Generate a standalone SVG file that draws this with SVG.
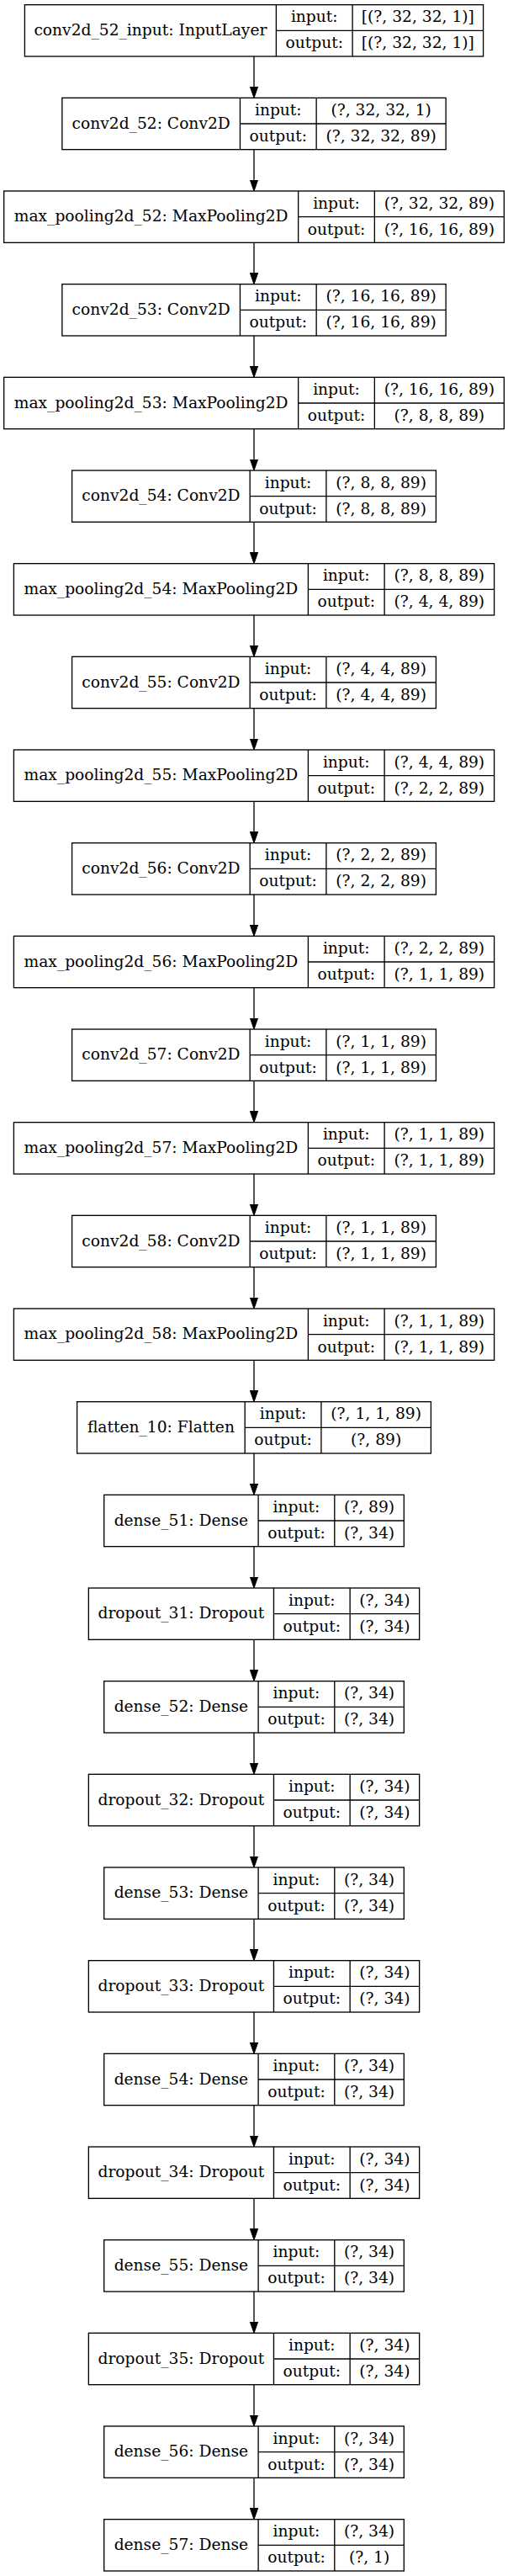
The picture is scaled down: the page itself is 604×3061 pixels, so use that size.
<svg xmlns="http://www.w3.org/2000/svg" width="604" height="3061" viewBox="0 0 604 3061">
<style>
.b{fill:#fff;stroke:#000;stroke-width:1.33}
.l{stroke:#000;stroke-width:1.33;fill:none}
.t{font-family:"DejaVu Serif","Liberation Serif",serif;font-size:18.67px;text-anchor:middle;fill:#000}
.e{stroke:#000;stroke-width:1.33;fill:none;marker-end:url(#ah)}
</style>
<defs>
<marker id="ah" markerUnits="userSpaceOnUse" viewBox="0 0 13.33 9.33" markerWidth="13.33" markerHeight="9.33" refX="0" refY="4.67" orient="auto">
<path d="M0,0 L13.33,4.67 L0,9.33 Z" fill="#000" stroke="#000" stroke-width="1"/>
</marker>
</defs>
<rect width="604" height="3061" fill="#fff"/>
<g id="edges">
<line class="e" x1="302" y1="67" x2="302" y2="103"/>
<line class="e" x1="302" y1="177.67" x2="302" y2="213.67"/>
<line class="e" x1="302" y1="288.33" x2="302" y2="324.33"/>
<line class="e" x1="302" y1="399" x2="302" y2="435"/>
<line class="e" x1="302" y1="509.67" x2="302" y2="545.67"/>
<line class="e" x1="302" y1="620.33" x2="302" y2="656.33"/>
<line class="e" x1="302" y1="731" x2="302" y2="767"/>
<line class="e" x1="302" y1="841.67" x2="302" y2="877.67"/>
<line class="e" x1="302" y1="952.33" x2="302" y2="988.33"/>
<line class="e" x1="302" y1="1063" x2="302" y2="1099"/>
<line class="e" x1="302" y1="1173.67" x2="302" y2="1209.67"/>
<line class="e" x1="302" y1="1284.33" x2="302" y2="1320.33"/>
<line class="e" x1="302" y1="1395" x2="302" y2="1431"/>
<line class="e" x1="302" y1="1505.67" x2="302" y2="1541.67"/>
<line class="e" x1="302" y1="1616.33" x2="302" y2="1652.33"/>
<line class="e" x1="302" y1="1727" x2="302" y2="1763"/>
<line class="e" x1="302" y1="1837.67" x2="302" y2="1873.67"/>
<line class="e" x1="302" y1="1948.33" x2="302" y2="1984.33"/>
<line class="e" x1="302" y1="2059" x2="302" y2="2095"/>
<line class="e" x1="302" y1="2169.67" x2="302" y2="2205.67"/>
<line class="e" x1="302" y1="2280.33" x2="302" y2="2316.33"/>
<line class="e" x1="302" y1="2391" x2="302" y2="2427"/>
<line class="e" x1="302" y1="2501.67" x2="302" y2="2537.67"/>
<line class="e" x1="302" y1="2612.33" x2="302" y2="2648.33"/>
<line class="e" x1="302" y1="2723" x2="302" y2="2759"/>
<line class="e" x1="302" y1="2833.67" x2="302" y2="2869.67"/>
<line class="e" x1="302" y1="2944.33" x2="302" y2="2980.33"/>
</g>

<g id="conv2d_52_input" transform="translate(0,5.67)">
<rect class="b" x="29.4" y="0" width="545.2" height="61.33"/>
<path class="l" d="M328.4,0V61.33M419.1,0V61.33M328.4,30.67H574.6"/>
<text class="t" x="178.9" y="36.2">conv2d_52_input: InputLayer</text>
<text class="t" x="373.75" y="20.8">input:</text>
<text class="t" x="373.75" y="51.5">output:</text>
<text class="t" x="496.85" y="20.8">[(?, 32, 32, 1)]</text>
<text class="t" x="496.85" y="51.5">[(?, 32, 32, 1)]</text>
</g>

<g id="conv2d_52" transform="translate(0,116.33)">
<rect class="b" x="73.85" y="0" width="456.3" height="61.33"/>
<path class="l" d="M285.45,0V61.33M376.15,0V61.33M285.45,30.67H530.15"/>
<text class="t" x="179.65" y="36.2">conv2d_52: Conv2D</text>
<text class="t" x="330.8" y="20.8">input:</text>
<text class="t" x="330.8" y="51.5">output:</text>
<text class="t" x="453.15" y="20.8">(?, 32, 32, 1)</text>
<text class="t" x="453.15" y="51.5">(?, 32, 32, 89)</text>
</g>

<g id="max_pooling2d_52" transform="translate(0,227)">
<rect class="b" x="4.65" y="0" width="594.7" height="61.33"/>
<path class="l" d="M354.65,0V61.33M445.35,0V61.33M354.65,30.67H599.35"/>
<text class="t" x="179.65" y="36.2">max_pooling2d_52: MaxPooling2D</text>
<text class="t" x="400" y="20.8">input:</text>
<text class="t" x="400" y="51.5">output:</text>
<text class="t" x="522.35" y="20.8">(?, 32, 32, 89)</text>
<text class="t" x="522.35" y="51.5">(?, 16, 16, 89)</text>
</g>

<g id="conv2d_53" transform="translate(0,337.67)">
<rect class="b" x="73.85" y="0" width="456.3" height="61.33"/>
<path class="l" d="M285.45,0V61.33M376.15,0V61.33M285.45,30.67H530.15"/>
<text class="t" x="179.65" y="36.2">conv2d_53: Conv2D</text>
<text class="t" x="330.8" y="20.8">input:</text>
<text class="t" x="330.8" y="51.5">output:</text>
<text class="t" x="453.15" y="20.8">(?, 16, 16, 89)</text>
<text class="t" x="453.15" y="51.5">(?, 16, 16, 89)</text>
</g>

<g id="max_pooling2d_53" transform="translate(0,448.33)">
<rect class="b" x="4.65" y="0" width="594.7" height="61.33"/>
<path class="l" d="M354.65,0V61.33M445.35,0V61.33M354.65,30.67H599.35"/>
<text class="t" x="179.65" y="36.2">max_pooling2d_53: MaxPooling2D</text>
<text class="t" x="400" y="20.8">input:</text>
<text class="t" x="400" y="51.5">output:</text>
<text class="t" x="522.35" y="20.8">(?, 16, 16, 89)</text>
<text class="t" x="522.35" y="51.5">(?, 8, 8, 89)</text>
</g>

<g id="conv2d_54" transform="translate(0,559)">
<rect class="b" x="85.6" y="0" width="432.8" height="61.33"/>
<path class="l" d="M297.2,0V61.33M387.9,0V61.33M297.2,30.67H518.4"/>
<text class="t" x="191.4" y="36.2">conv2d_54: Conv2D</text>
<text class="t" x="342.55" y="20.8">input:</text>
<text class="t" x="342.55" y="51.5">output:</text>
<text class="t" x="453.15" y="20.8">(?, 8, 8, 89)</text>
<text class="t" x="453.15" y="51.5">(?, 8, 8, 89)</text>
</g>

<g id="max_pooling2d_54" transform="translate(0,669.67)">
<rect class="b" x="16.4" y="0" width="571.2" height="61.33"/>
<path class="l" d="M366.4,0V61.33M457.1,0V61.33M366.4,30.67H587.6"/>
<text class="t" x="191.4" y="36.2">max_pooling2d_54: MaxPooling2D</text>
<text class="t" x="411.75" y="20.8">input:</text>
<text class="t" x="411.75" y="51.5">output:</text>
<text class="t" x="522.35" y="20.8">(?, 8, 8, 89)</text>
<text class="t" x="522.35" y="51.5">(?, 4, 4, 89)</text>
</g>

<g id="conv2d_55" transform="translate(0,780.33)">
<rect class="b" x="85.6" y="0" width="432.8" height="61.33"/>
<path class="l" d="M297.2,0V61.33M387.9,0V61.33M297.2,30.67H518.4"/>
<text class="t" x="191.4" y="36.2">conv2d_55: Conv2D</text>
<text class="t" x="342.55" y="20.8">input:</text>
<text class="t" x="342.55" y="51.5">output:</text>
<text class="t" x="453.15" y="20.8">(?, 4, 4, 89)</text>
<text class="t" x="453.15" y="51.5">(?, 4, 4, 89)</text>
</g>

<g id="max_pooling2d_55" transform="translate(0,891)">
<rect class="b" x="16.4" y="0" width="571.2" height="61.33"/>
<path class="l" d="M366.4,0V61.33M457.1,0V61.33M366.4,30.67H587.6"/>
<text class="t" x="191.4" y="36.2">max_pooling2d_55: MaxPooling2D</text>
<text class="t" x="411.75" y="20.8">input:</text>
<text class="t" x="411.75" y="51.5">output:</text>
<text class="t" x="522.35" y="20.8">(?, 4, 4, 89)</text>
<text class="t" x="522.35" y="51.5">(?, 2, 2, 89)</text>
</g>

<g id="conv2d_56" transform="translate(0,1001.67)">
<rect class="b" x="85.6" y="0" width="432.8" height="61.33"/>
<path class="l" d="M297.2,0V61.33M387.9,0V61.33M297.2,30.67H518.4"/>
<text class="t" x="191.4" y="36.2">conv2d_56: Conv2D</text>
<text class="t" x="342.55" y="20.8">input:</text>
<text class="t" x="342.55" y="51.5">output:</text>
<text class="t" x="453.15" y="20.8">(?, 2, 2, 89)</text>
<text class="t" x="453.15" y="51.5">(?, 2, 2, 89)</text>
</g>

<g id="max_pooling2d_56" transform="translate(0,1112.33)">
<rect class="b" x="16.4" y="0" width="571.2" height="61.33"/>
<path class="l" d="M366.4,0V61.33M457.1,0V61.33M366.4,30.67H587.6"/>
<text class="t" x="191.4" y="36.2">max_pooling2d_56: MaxPooling2D</text>
<text class="t" x="411.75" y="20.8">input:</text>
<text class="t" x="411.75" y="51.5">output:</text>
<text class="t" x="522.35" y="20.8">(?, 2, 2, 89)</text>
<text class="t" x="522.35" y="51.5">(?, 1, 1, 89)</text>
</g>

<g id="conv2d_57" transform="translate(0,1223)">
<rect class="b" x="85.6" y="0" width="432.8" height="61.33"/>
<path class="l" d="M297.2,0V61.33M387.9,0V61.33M297.2,30.67H518.4"/>
<text class="t" x="191.4" y="36.2">conv2d_57: Conv2D</text>
<text class="t" x="342.55" y="20.8">input:</text>
<text class="t" x="342.55" y="51.5">output:</text>
<text class="t" x="453.15" y="20.8">(?, 1, 1, 89)</text>
<text class="t" x="453.15" y="51.5">(?, 1, 1, 89)</text>
</g>

<g id="max_pooling2d_57" transform="translate(0,1333.67)">
<rect class="b" x="16.4" y="0" width="571.2" height="61.33"/>
<path class="l" d="M366.4,0V61.33M457.1,0V61.33M366.4,30.67H587.6"/>
<text class="t" x="191.4" y="36.2">max_pooling2d_57: MaxPooling2D</text>
<text class="t" x="411.75" y="20.8">input:</text>
<text class="t" x="411.75" y="51.5">output:</text>
<text class="t" x="522.35" y="20.8">(?, 1, 1, 89)</text>
<text class="t" x="522.35" y="51.5">(?, 1, 1, 89)</text>
</g>

<g id="conv2d_58" transform="translate(0,1444.33)">
<rect class="b" x="85.6" y="0" width="432.8" height="61.33"/>
<path class="l" d="M297.2,0V61.33M387.9,0V61.33M297.2,30.67H518.4"/>
<text class="t" x="191.4" y="36.2">conv2d_58: Conv2D</text>
<text class="t" x="342.55" y="20.8">input:</text>
<text class="t" x="342.55" y="51.5">output:</text>
<text class="t" x="453.15" y="20.8">(?, 1, 1, 89)</text>
<text class="t" x="453.15" y="51.5">(?, 1, 1, 89)</text>
</g>

<g id="max_pooling2d_58" transform="translate(0,1555)">
<rect class="b" x="16.4" y="0" width="571.2" height="61.33"/>
<path class="l" d="M366.4,0V61.33M457.1,0V61.33M366.4,30.67H587.6"/>
<text class="t" x="191.4" y="36.2">max_pooling2d_58: MaxPooling2D</text>
<text class="t" x="411.75" y="20.8">input:</text>
<text class="t" x="411.75" y="51.5">output:</text>
<text class="t" x="522.35" y="20.8">(?, 1, 1, 89)</text>
<text class="t" x="522.35" y="51.5">(?, 1, 1, 89)</text>
</g>

<g id="flatten_10" transform="translate(0,1665.67)">
<rect class="b" x="91.6" y="0" width="420.8" height="61.33"/>
<path class="l" d="M291.2,0V61.33M381.9,0V61.33M291.2,30.67H512.4"/>
<text class="t" x="191.4" y="36.2">flatten_10: Flatten</text>
<text class="t" x="336.55" y="20.8">input:</text>
<text class="t" x="336.55" y="51.5">output:</text>
<text class="t" x="447.15" y="20.8">(?, 1, 1, 89)</text>
<text class="t" x="447.15" y="51.5">(?, 89)</text>
</g>

<g id="dense_51" transform="translate(0,1776.33)">
<rect class="b" x="123.7" y="0" width="356.6" height="61.33"/>
<path class="l" d="M307.1,0V61.33M397.8,0V61.33M307.1,30.67H480.3"/>
<text class="t" x="215.4" y="36.2">dense_51: Dense</text>
<text class="t" x="352.45" y="20.8">input:</text>
<text class="t" x="352.45" y="51.5">output:</text>
<text class="t" x="439.05" y="20.8">(?, 89)</text>
<text class="t" x="439.05" y="51.5">(?, 34)</text>
</g>

<g id="dropout_31" transform="translate(0,1887)">
<rect class="b" x="105.35" y="0" width="393.3" height="61.33"/>
<path class="l" d="M325.45,0V61.33M416.15,0V61.33M325.45,30.67H498.65"/>
<text class="t" x="215.4" y="36.2">dropout_31: Dropout</text>
<text class="t" x="370.8" y="20.8">input:</text>
<text class="t" x="370.8" y="51.5">output:</text>
<text class="t" x="457.4" y="20.8">(?, 34)</text>
<text class="t" x="457.4" y="51.5">(?, 34)</text>
</g>

<g id="dense_52" transform="translate(0,1997.67)">
<rect class="b" x="123.7" y="0" width="356.6" height="61.33"/>
<path class="l" d="M307.1,0V61.33M397.8,0V61.33M307.1,30.67H480.3"/>
<text class="t" x="215.4" y="36.2">dense_52: Dense</text>
<text class="t" x="352.45" y="20.8">input:</text>
<text class="t" x="352.45" y="51.5">output:</text>
<text class="t" x="439.05" y="20.8">(?, 34)</text>
<text class="t" x="439.05" y="51.5">(?, 34)</text>
</g>

<g id="dropout_32" transform="translate(0,2108.33)">
<rect class="b" x="105.35" y="0" width="393.3" height="61.33"/>
<path class="l" d="M325.45,0V61.33M416.15,0V61.33M325.45,30.67H498.65"/>
<text class="t" x="215.4" y="36.2">dropout_32: Dropout</text>
<text class="t" x="370.8" y="20.8">input:</text>
<text class="t" x="370.8" y="51.5">output:</text>
<text class="t" x="457.4" y="20.8">(?, 34)</text>
<text class="t" x="457.4" y="51.5">(?, 34)</text>
</g>

<g id="dense_53" transform="translate(0,2219)">
<rect class="b" x="123.7" y="0" width="356.6" height="61.33"/>
<path class="l" d="M307.1,0V61.33M397.8,0V61.33M307.1,30.67H480.3"/>
<text class="t" x="215.4" y="36.2">dense_53: Dense</text>
<text class="t" x="352.45" y="20.8">input:</text>
<text class="t" x="352.45" y="51.5">output:</text>
<text class="t" x="439.05" y="20.8">(?, 34)</text>
<text class="t" x="439.05" y="51.5">(?, 34)</text>
</g>

<g id="dropout_33" transform="translate(0,2329.67)">
<rect class="b" x="105.35" y="0" width="393.3" height="61.33"/>
<path class="l" d="M325.45,0V61.33M416.15,0V61.33M325.45,30.67H498.65"/>
<text class="t" x="215.4" y="36.2">dropout_33: Dropout</text>
<text class="t" x="370.8" y="20.8">input:</text>
<text class="t" x="370.8" y="51.5">output:</text>
<text class="t" x="457.4" y="20.8">(?, 34)</text>
<text class="t" x="457.4" y="51.5">(?, 34)</text>
</g>

<g id="dense_54" transform="translate(0,2440.33)">
<rect class="b" x="123.7" y="0" width="356.6" height="61.33"/>
<path class="l" d="M307.1,0V61.33M397.8,0V61.33M307.1,30.67H480.3"/>
<text class="t" x="215.4" y="36.2">dense_54: Dense</text>
<text class="t" x="352.45" y="20.8">input:</text>
<text class="t" x="352.45" y="51.5">output:</text>
<text class="t" x="439.05" y="20.8">(?, 34)</text>
<text class="t" x="439.05" y="51.5">(?, 34)</text>
</g>

<g id="dropout_34" transform="translate(0,2551)">
<rect class="b" x="105.35" y="0" width="393.3" height="61.33"/>
<path class="l" d="M325.45,0V61.33M416.15,0V61.33M325.45,30.67H498.65"/>
<text class="t" x="215.4" y="36.2">dropout_34: Dropout</text>
<text class="t" x="370.8" y="20.8">input:</text>
<text class="t" x="370.8" y="51.5">output:</text>
<text class="t" x="457.4" y="20.8">(?, 34)</text>
<text class="t" x="457.4" y="51.5">(?, 34)</text>
</g>

<g id="dense_55" transform="translate(0,2661.67)">
<rect class="b" x="123.7" y="0" width="356.6" height="61.33"/>
<path class="l" d="M307.1,0V61.33M397.8,0V61.33M307.1,30.67H480.3"/>
<text class="t" x="215.4" y="36.2">dense_55: Dense</text>
<text class="t" x="352.45" y="20.8">input:</text>
<text class="t" x="352.45" y="51.5">output:</text>
<text class="t" x="439.05" y="20.8">(?, 34)</text>
<text class="t" x="439.05" y="51.5">(?, 34)</text>
</g>

<g id="dropout_35" transform="translate(0,2772.33)">
<rect class="b" x="105.35" y="0" width="393.3" height="61.33"/>
<path class="l" d="M325.45,0V61.33M416.15,0V61.33M325.45,30.67H498.65"/>
<text class="t" x="215.4" y="36.2">dropout_35: Dropout</text>
<text class="t" x="370.8" y="20.8">input:</text>
<text class="t" x="370.8" y="51.5">output:</text>
<text class="t" x="457.4" y="20.8">(?, 34)</text>
<text class="t" x="457.4" y="51.5">(?, 34)</text>
</g>

<g id="dense_56" transform="translate(0,2883)">
<rect class="b" x="123.7" y="0" width="356.6" height="61.33"/>
<path class="l" d="M307.1,0V61.33M397.8,0V61.33M307.1,30.67H480.3"/>
<text class="t" x="215.4" y="36.2">dense_56: Dense</text>
<text class="t" x="352.45" y="20.8">input:</text>
<text class="t" x="352.45" y="51.5">output:</text>
<text class="t" x="439.05" y="20.8">(?, 34)</text>
<text class="t" x="439.05" y="51.5">(?, 34)</text>
</g>

<g id="dense_57" transform="translate(0,2993.67)">
<rect class="b" x="123.7" y="0" width="356.6" height="61.33"/>
<path class="l" d="M307.1,0V61.33M397.8,0V61.33M307.1,30.67H480.3"/>
<text class="t" x="215.4" y="36.2">dense_57: Dense</text>
<text class="t" x="352.45" y="20.8">input:</text>
<text class="t" x="352.45" y="51.5">output:</text>
<text class="t" x="439.05" y="20.8">(?, 34)</text>
<text class="t" x="439.05" y="51.5">(?, 1)</text>
</g>
</svg>
